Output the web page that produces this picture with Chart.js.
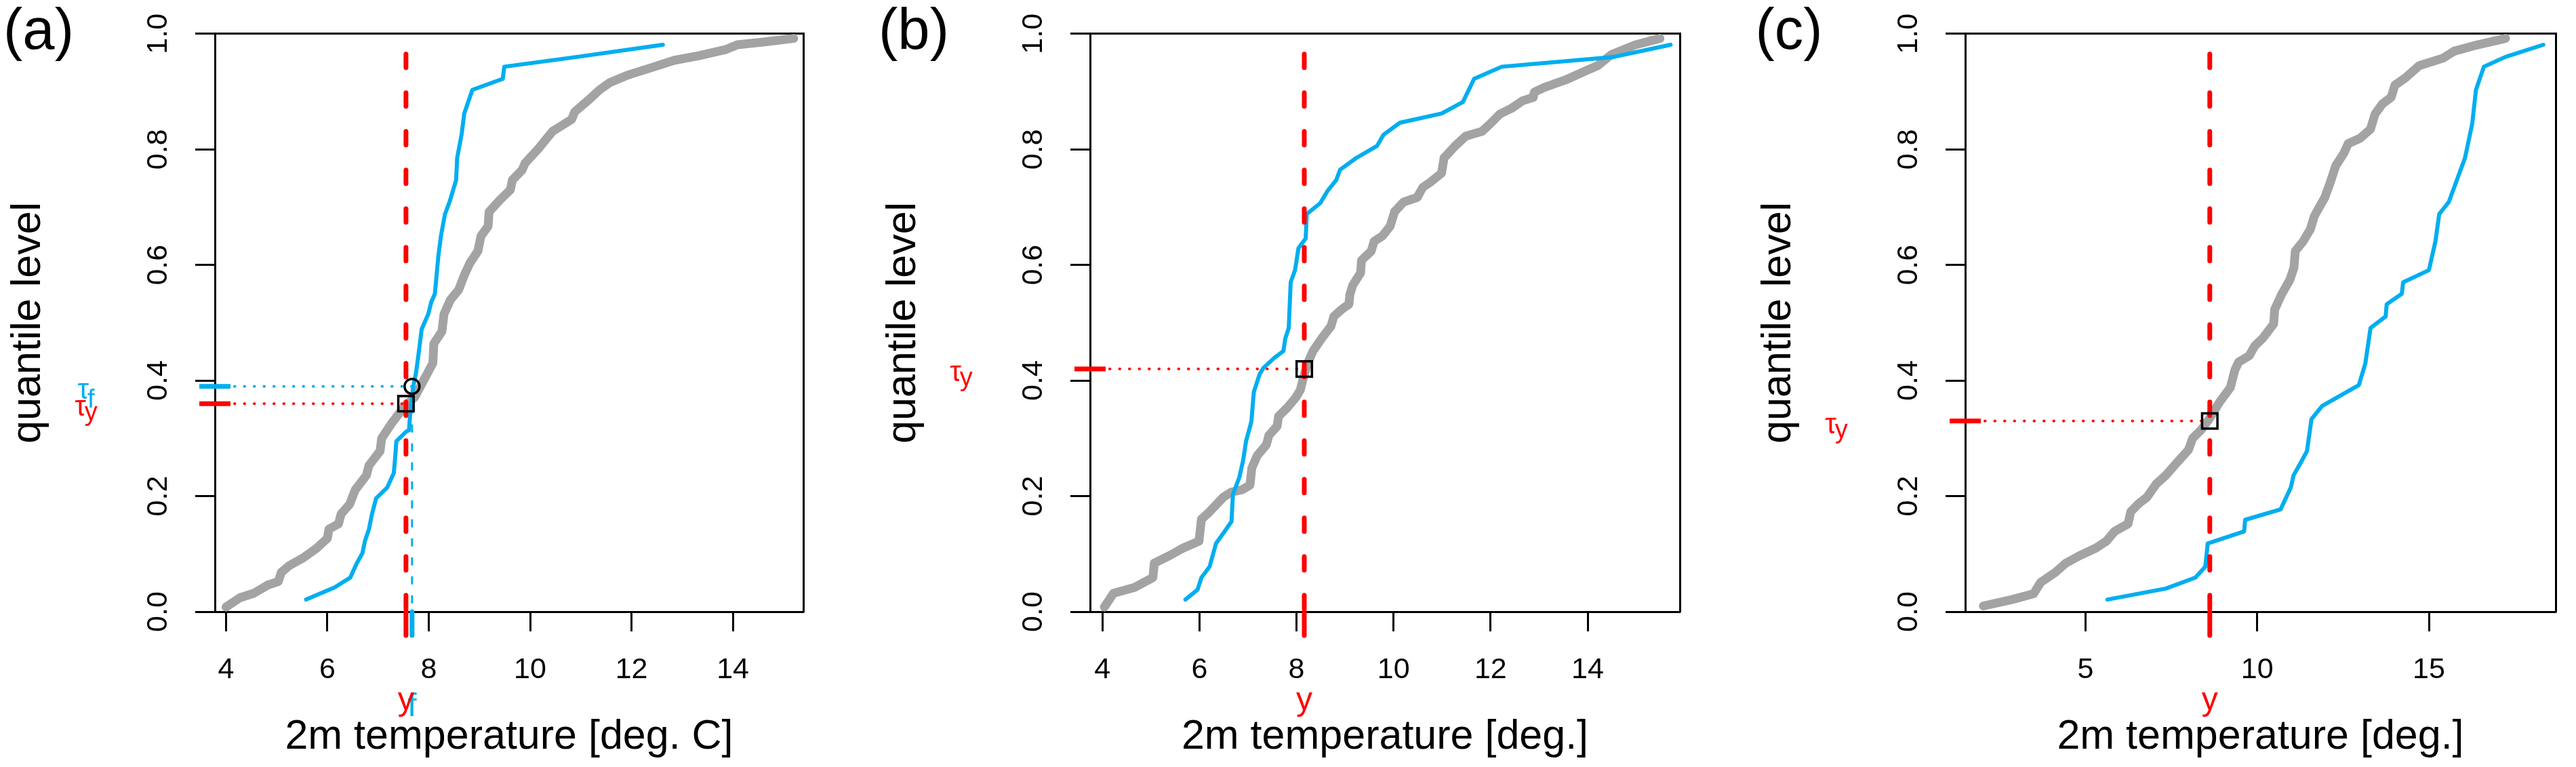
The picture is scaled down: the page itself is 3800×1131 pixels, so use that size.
<!DOCTYPE html>
<html>
<head>
<meta charset="utf-8">
<script src="https://cdn.jsdelivr.net/npm/chart.js@4.4.1/dist/chart.umd.min.js"></script>
<style>
  html, body { margin: 0; padding: 0; background: #fff; overflow: hidden; }
  #wrap { position: relative; width: 3800px; height: 1131px; }
  canvas { position: absolute; top: 0; }
</style>
</head>
<body>
<div id="wrap">
  <canvas id="panelA" width="1215" height="1131" style="left:0px"></canvas>
  <canvas id="panelB" width="1217" height="1131" style="left:1291px"></canvas>
  <canvas id="panelC" width="1218" height="1131" style="left:2582px"></canvas>
</div>
<script>
// ---- data ----
const panelLetters = ['(a)', '(b)', '(c)'];
const xTitles = ['2m temperature [deg. C]', '2m temperature [deg.]', '2m temperature [deg.]'];
const yTitle = 'quantile level';
const yTicks = [0, 0.2, 0.4, 0.6, 0.8, 1.0];
const xTicksA = [4, 6, 8, 10, 12, 14];
const xTicksB = [4, 6, 8, 10, 12, 14];
const xTicksC = [5, 10, 15];
const xLimitsA = [3.78, 15.39];
const xLimitsB = [3.745, 15.9];
const xLimitsC = [1.5, 18.69];

// grey: climatological quantile curve, blue: forecast quantile curve
const grayTempA = [4.0, 4.27, 4.55, 4.82, 5.03, 5.09, 5.25, 5.52, 5.79, 6.0, 6.03, 6.22, 6.27, 6.44, 6.55, 6.77, 6.82, 7.04, 7.07, 7.26, 7.51, 7.72, 7.88, 8.08, 8.10, 8.26, 8.30, 8.43, 8.59, 8.70, 8.81, 8.97, 9.03, 9.17, 9.19, 9.41, 9.61, 9.65, 9.84, 9.90, 10.17, 10.44, 10.82, 10.88, 11.16, 11.37, 11.58, 11.91, 12.45, 12.84, 13.33, 13.87, 14.09, 14.63, 15.2];
const grayQuantA = [0.008, 0.024, 0.032, 0.046, 0.052, 0.068, 0.08, 0.093, 0.11, 0.127, 0.143, 0.152, 0.169, 0.186, 0.211, 0.236, 0.253, 0.278, 0.30, 0.325, 0.354, 0.371, 0.397, 0.43, 0.464, 0.485, 0.515, 0.54, 0.557, 0.582, 0.603, 0.624, 0.65, 0.667, 0.692, 0.713, 0.73, 0.747, 0.764, 0.776, 0.802, 0.831, 0.852, 0.865, 0.886, 0.903, 0.916, 0.928, 0.943, 0.954, 0.962, 0.973, 0.981, 0.986, 0.992];
const blueTempA = [5.58, 6.14, 6.45, 6.58, 6.69, 6.74, 6.82, 6.88, 6.96, 7.18, 7.31, 7.34, 7.36, 7.56, 7.61, 7.63, 7.69, 7.75, 7.80, 7.86, 7.99, 8.05, 8.12, 8.19, 8.24, 8.32, 8.41, 8.54, 8.56, 8.65, 8.70, 8.86, 9.46, 9.49, 10.93, 12.62];
const blueQuantA = [0.021, 0.042, 0.059, 0.084, 0.101, 0.122, 0.143, 0.169, 0.196, 0.215, 0.24, 0.27, 0.295, 0.312, 0.314, 0.338, 0.388, 0.414, 0.447, 0.489, 0.515, 0.536, 0.55, 0.616, 0.65, 0.688, 0.709, 0.747, 0.785, 0.827, 0.862, 0.903, 0.922, 0.943, 0.96, 0.981];

const grayTempB = [4.04, 4.23, 4.66, 5.04, 5.07, 5.38, 5.66, 5.99, 6.04, 6.21, 6.49, 6.66, 6.88, 7.04, 7.08, 7.19, 7.38, 7.43, 7.6, 7.63, 7.82, 7.99, 8.08, 8.13, 8.23, 8.34, 8.52, 8.71, 8.77, 8.93, 9.08, 9.1, 9.16, 9.32, 9.34, 9.54, 9.6, 9.77, 9.93, 10.02, 10.21, 10.49, 10.6, 10.77, 10.99, 11.04, 11.27, 11.49, 11.82, 11.99, 12.19, 12.43, 12.66, 12.88, 12.9, 13.1, 13.54, 13.99, 14.21, 14.49, 14.99, 15.49];
const grayQuantB = [0.008, 0.032, 0.042, 0.059, 0.084, 0.097, 0.11, 0.122, 0.16, 0.173, 0.198, 0.207, 0.211, 0.219, 0.249, 0.27, 0.289, 0.305, 0.321, 0.338, 0.354, 0.371, 0.384, 0.401, 0.43, 0.451, 0.473, 0.494, 0.511, 0.523, 0.532, 0.549, 0.565, 0.586, 0.608, 0.624, 0.641, 0.65, 0.667, 0.692, 0.709, 0.717, 0.734, 0.744, 0.759, 0.785, 0.806, 0.823, 0.831, 0.844, 0.861, 0.871, 0.884, 0.89, 0.899, 0.907, 0.92, 0.937, 0.945, 0.964, 0.981, 0.992];
const blueTempB = [5.71, 5.96, 6.04, 6.21, 6.34, 6.52, 6.66, 6.69, 6.82, 6.9, 6.96, 7.07, 7.12, 7.24, 7.32, 7.54, 7.73, 7.77, 7.84, 7.88, 7.97, 8.04, 8.19, 8.21, 8.49, 8.63, 8.82, 8.9, 9.23, 9.66, 9.79, 10.13, 10.99, 11.43, 11.66, 12.23, 14.54, 15.71];
const blueQuantB = [0.021, 0.038, 0.059, 0.078, 0.118, 0.139, 0.156, 0.203, 0.232, 0.262, 0.295, 0.329, 0.38, 0.411, 0.422, 0.439, 0.451, 0.473, 0.491, 0.57, 0.591, 0.629, 0.646, 0.688, 0.707, 0.727, 0.747, 0.765, 0.785, 0.806, 0.825, 0.846, 0.862, 0.882, 0.922, 0.943, 0.96, 0.981];

const grayTempC = [2.03, 2.86, 3.49, 3.70, 4.12, 4.43, 4.83, 5.30, 5.61, 5.85, 6.24, 6.32, 6.55, 6.79, 7.06, 7.34, 7.65, 8.0, 8.12, 8.36, 8.6, 8.91, 9.22, 9.35, 9.46, 9.77, 9.93, 10.16, 10.48, 10.51, 10.71, 10.95, 11.07, 11.11, 11.34, 11.55, 11.66, 11.97, 12.13, 12.29, 12.52, 12.65, 12.99, 13.3, 13.43, 13.65, 13.9, 14.01, 14.32, 14.72, 15.42, 15.74, 16.29, 17.23];
const grayQuantC = [0.01, 0.021, 0.031, 0.051, 0.068, 0.084, 0.097, 0.11, 0.122, 0.139, 0.152, 0.173, 0.187, 0.198, 0.221, 0.236, 0.257, 0.28, 0.3, 0.314, 0.333, 0.363, 0.388, 0.418, 0.432, 0.443, 0.46, 0.473, 0.498, 0.523, 0.549, 0.574, 0.595, 0.624, 0.641, 0.662, 0.684, 0.717, 0.743, 0.772, 0.793, 0.81, 0.819, 0.835, 0.861, 0.879, 0.89, 0.911, 0.924, 0.945, 0.958, 0.97, 0.979, 0.992];
const blueTempC = [5.64, 7.34, 8.2, 8.49, 8.56, 9.62, 9.65, 10.68, 10.98, 11.06, 11.26, 11.45, 11.58, 11.89, 12.96, 13.15, 13.3, 13.74, 13.77, 14.21, 14.25, 15.0, 15.19, 15.3, 15.58, 16.05, 16.26, 16.37, 16.6, 17.23, 18.33];
const blueQuantC = [0.021, 0.04, 0.059, 0.078, 0.118, 0.139, 0.159, 0.177, 0.215, 0.236, 0.257, 0.278, 0.333, 0.356, 0.392, 0.43, 0.491, 0.511, 0.532, 0.55, 0.57, 0.591, 0.641, 0.688, 0.709, 0.785, 0.844, 0.903, 0.943, 0.96, 0.981];

// observation y and its quantile level tau_y; forecast value y_f and tau_f (panel a)
const obsValues = [7.55, 8.16, 8.62];
const obsTaus = [0.36, 0.42, 0.33];
const fcValueA = 7.67;
const fcTauA = 0.39;
const obsLineTop = 0.965;   // upper end of the dashed observation line

// ---- styling ----
const FONT = '"Liberation Sans", Arial, Helvetica, sans-serif';
const RED = '#FF0000';
const BLUE = '#00AEEF';
const GRAY = '#A3A3A3';
const AXIS_DROP = -0.041;    // axis marks hang below the x axis

Chart.defaults.font.family = FONT;
Chart.defaults.color = '#000';

function pts(xs, ys) {
  return xs.map((x, i) => ({ x: x, y: ys[i] }));
}

const annotate = {
  id: 'annotate',
  afterDraw(chart, args, opts) {
    const { ctx, chartArea } = chart;
    const xs = chart.scales.x, ys = chart.scales.y;
    ctx.save();
    ctx.fillStyle = '#000';
    ctx.textAlign = 'center';
    ctx.textBaseline = 'alphabetic';
    ctx.font = '85px ' + FONT;
    ctx.fillText(opts.letter, chartArea.left - 260, 72);

    opts.marks.forEach(m => {
      // tau label left of the y axis, centred as a whole
      const py = ys.getPixelForValue(m.tau);
      const cx = chartArea.left - 190;
      ctx.fillStyle = m.color;
      ctx.font = '42px ' + FONT;
      const wt = ctx.measureText('\u03C4').width;
      ctx.font = '38px ' + FONT;
      const ws = ctx.measureText(m.sub).width;
      const x0 = cx - (wt + ws - 2) / 2;
      ctx.textAlign = 'left';
      ctx.font = '42px ' + FONT;
      ctx.fillText('\u03C4', x0, py + 18);
      ctx.font = '38px ' + FONT;
      ctx.fillText(m.sub, x0 + wt - 2, py + (m.sub === 'y' ? 25 : 31));

      // value label below the x axis
      const qx = xs.getPixelForValue(m.temp);
      ctx.font = '48px ' + FONT;
      ctx.textAlign = 'center';
      ctx.fillText(m.sub, qx, m.sub === 'y' ? 1047 : 1056);
    });
    ctx.restore();
  }
};

function buildDatasets(p) {
  const out = [];
  const xmin = p.xlim[0];
  // markers on top
  p.marks.forEach(m => out.push({
    data: [{ x: m.temp, y: m.tau }], showLine: false,
    pointStyle: m.shape, pointRadius: m.shape === 'rect' ? 16 : 11,
    pointBorderWidth: 3.5, pointBorderColor: '#000', pointBackgroundColor: 'rgba(0,0,0,0)',
    clip: false
  }));
  // coloured marks on the axes
  p.marks.forEach(m => {
    out.push({
      data: [{ x: xmin, y: m.tau }], showLine: false,
      pointStyle: 'line', pointRadius: 23, pointBorderWidth: 7,
      pointBorderColor: m.color, clip: false
    });
    out.push({
      data: [{ x: m.temp, y: 0 }, { x: m.temp, y: AXIS_DROP }], showLine: true,
      borderColor: m.color, borderWidth: 7, borderCapStyle: 'round', pointRadius: 0, clip: false
    });
  });
  // dotted lines from the y axis
  p.marks.forEach(m => out.push({
    data: [{ x: xmin, y: m.tau }, { x: m.temp, y: m.tau }], showLine: true,
    borderColor: m.color, borderWidth: 4, borderDash: [0.5, 14], borderCapStyle: 'round',
    pointRadius: 0
  }));
  // vertical lines
  p.marks.forEach(m => {
    if (m.obs) {
      out.push({
        data: [{ x: m.temp, y: obsLineTop }, { x: m.temp, y: 0 }], showLine: true,
        borderColor: m.color, borderWidth: 7, borderDash: [20, 37], borderCapStyle: 'round',
        pointRadius: 0
      });
    } else {
      out.push({
        data: [{ x: m.temp, y: m.tau }, { x: m.temp, y: 0 }], showLine: true,
        borderColor: m.color, borderWidth: 3, borderDash: [12, 16], pointRadius: 0
      });
    }
  });
  out.push({
    data: pts(p.blueT, p.blueQ), showLine: true, borderColor: BLUE, borderWidth: 6,
    borderCapStyle: 'round', borderJoinStyle: 'round', pointRadius: 0, tension: 0
  });
  out.push({
    data: pts(p.grayT, p.grayQ), showLine: true, borderColor: GRAY, borderWidth: 13,
    borderCapStyle: 'round', borderJoinStyle: 'round', pointRadius: 0, tension: 0
  });
  return out;
}

function makePanel(p) {
  const tickFont = { family: FONT, size: 43, lineHeight: 1.2 };
  const titleFont = { family: FONT, size: 61, lineHeight: 1 };
  new Chart(document.getElementById(p.canvas), {
    type: 'scatter',
    data: { datasets: buildDatasets(p) },
    options: {
      responsive: false,
      animation: false,
      devicePixelRatio: 1,
      events: [],
      layout: { padding: { left: 0, top: 45, right: 13, bottom: 0 } },
      plugins: {
        legend: { display: false },
        tooltip: { enabled: false },
        annotate: { letter: p.letter, marks: p.marks }
      },
      scales: {
        x: {
          type: 'linear', position: 'bottom', min: p.xlim[0], max: p.xlim[1],
          afterBuildTicks: s => { s.ticks = p.xt.map(v => ({ value: v })); },
          afterFit: s => { s.height = 229; },
          border: { display: true, color: '#000', width: 3 },
          grid: { drawOnChartArea: false, drawTicks: true, tickLength: 29, tickWidth: 3, tickColor: '#000' },
          ticks: { color: '#000', font: tickFont, padding: 31, minRotation: 0, maxRotation: 0 },
          title: { display: true, text: p.title, color: '#000', font: titleFont, padding: { top: 0, bottom: 13 } }
        },
        y: {
          type: 'linear', position: 'left', min: 0, max: 1,
          afterBuildTicks: s => { s.ticks = yTicks.map(v => ({ value: v })); },
          afterFit: s => { s.width = 317; },
          border: { display: true, color: '#000', width: 3 },
          grid: { drawOnChartArea: false, drawTicks: true, tickLength: 29, tickWidth: 3, tickColor: '#000' },
          ticks: {
            color: '#000', font: tickFont, padding: 24, minRotation: 90, maxRotation: 90,
            crossAlign: 'center', callback: v => Number(v).toFixed(1)
          },
          title: { display: true, text: yTitle, color: '#000', font: titleFont, padding: { top: 12, bottom: 0 } }
        },
        xTop: {
          type: 'linear', position: 'top', min: p.xlim[0], max: p.xlim[1],
          afterFit: s => { s.height = 0; },
          border: { display: true, color: '#000', width: 3 },
          grid: { display: false, drawOnChartArea: false, drawTicks: false },
          ticks: { display: false }
        },
        yRight: {
          type: 'linear', position: 'right', min: 0, max: 1,
          afterFit: s => { s.width = 0; },
          border: { display: true, color: '#000', width: 3 },
          grid: { display: false, drawOnChartArea: false, drawTicks: false },
          ticks: { display: false }
        }
      }
    },
    plugins: [annotate]
  });
}

makePanel({
  canvas: 'panelA', letter: panelLetters[0], title: xTitles[0], xt: xTicksA, xlim: xLimitsA,
  grayT: grayTempA, grayQ: grayQuantA, blueT: blueTempA, blueQ: blueQuantA,
  marks: [
    { temp: fcValueA, tau: fcTauA, color: BLUE, shape: 'circle', sub: 'f', obs: false },
    { temp: obsValues[0], tau: obsTaus[0], color: RED, shape: 'rect', sub: 'y', obs: true }
  ]
});
makePanel({
  canvas: 'panelB', letter: panelLetters[1], title: xTitles[1], xt: xTicksB, xlim: xLimitsB,
  grayT: grayTempB, grayQ: grayQuantB, blueT: blueTempB, blueQ: blueQuantB,
  marks: [
    { temp: obsValues[1], tau: obsTaus[1], color: RED, shape: 'rect', sub: 'y', obs: true }
  ]
});
makePanel({
  canvas: 'panelC', letter: panelLetters[2], title: xTitles[2], xt: xTicksC, xlim: xLimitsC,
  grayT: grayTempC, grayQ: grayQuantC, blueT: blueTempC, blueQ: blueQuantC,
  marks: [
    { temp: obsValues[2], tau: obsTaus[2], color: RED, shape: 'rect', sub: 'y', obs: true }
  ]
});
</script>
</body>
</html>
